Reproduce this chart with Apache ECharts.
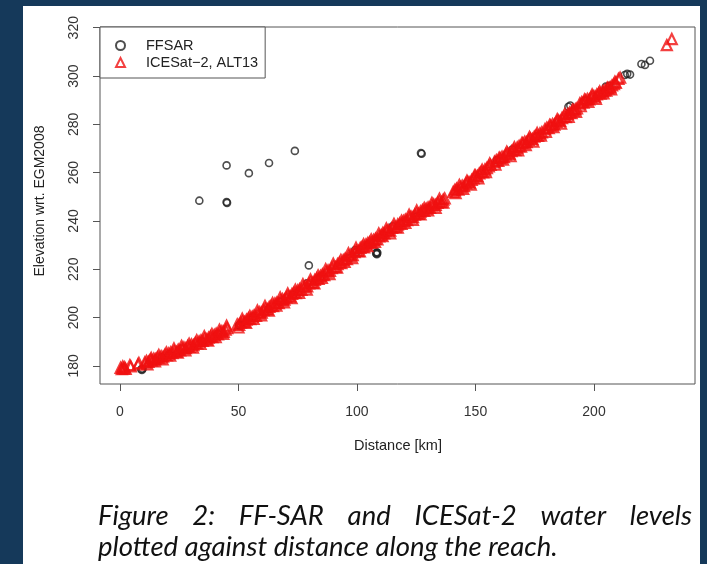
<!DOCTYPE html>
<html><head><meta charset="utf-8">
<script src="https://cdn.jsdelivr.net/npm/echarts@6/dist/echarts.min.js"></script>
<style>html,body{margin:0;padding:0;background:#15395a;}#c{width:707px;height:564px;}</style>
</head><body><div id="c"></div>
<script>
const xTicks = [0, 50, 100, 150, 200];
const yTicks = [180, 200, 220, 240, 260, 280, 300, 320];
const xTitle = 'Distance [km]';
const yTitle = 'Elevation wrt. EGM2008';
const seriesNames = ['FFSAR', 'ICESat\u22122, ALT13'];
const captionLine1 = ['Figure', '2:', 'FF-SAR', 'and', 'ICESat-2', 'water', 'levels'];
const captionLine2 = 'plotted against distance along the reach.';

const ffsar = [
 [9.0,178.6],[9.3,178.3],[9.6,178.8],[17.6,183.6],[20.8,184.8],[26.0,187.2],[34.5,190.2],[41.5,193.2],
 [50.2,196.8],[50.6,196.5],[51.0,197.1],[56.0,200.3],[62.6,203.5],[67.5,206.6],[73.1,209.4],[79.0,214.2],[84.5,216.8],
 [97.0,224.6],[99.2,228.0],[99.8,227.2],[108.1,226.5],[108.3,227.0],[108.4,226.2],[108.6,226.8],[115.0,237.8],[118.5,239.0],[125.0,241.8],
 [159.0,265.2],[165.5,269.6],[175.8,274.9],[189.2,287.3],[190.0,287.8],[196.0,289.8],[205.0,295.6],[206.5,296.0],
 [213.0,300.4],[214.0,300.9],[215.2,300.6],[220.0,305.0],[221.5,304.6],[223.6,306.3],
 [33.5,248.4],[45.0,247.8],[45.2,247.5],[45.0,263.0],[54.4,259.8],[62.9,264.0],[73.8,269.0],[79.7,221.6],[54.0,301.8],[127.0,268.1],[127.3,267.8]
];

const icesat = [
 [0.3,179.2],[0.8,178.6],[1.2,179.8],[1.6,178.9],[2.0,179.4],[2.4,178.7],[4.2,180.3],[4.6,179.8],[7.6,180.6],[8.0,181.2],
 [10.5,181.4],[11.2,182.0],[12.0,181.7],[12.8,182.6],[13.5,182.2],[14.3,183.0],[15.0,182.8],[15.8,183.5],[16.6,183.2],[17.4,184.0],
 [18.2,183.8],[19.0,184.6],[19.8,184.3],[20.6,185.1],[21.4,185.6],[22.2,185.3],[23.0,186.1],[23.8,185.8],[24.6,186.7],[25.4,186.4],
 [26.2,187.2],[27.0,187.6],[27.8,187.3],[28.6,188.2],[29.4,187.9],[30.2,188.9],[31.0,188.6],[31.8,189.5],[32.6,189.2],[33.4,190.1],
 [34.2,190.5],[35.0,190.3],[35.8,191.2],[36.6,190.9],[37.4,191.7],[38.2,192.2],[39.0,191.9],[39.8,192.8],[40.6,193.3],[41.4,193.0],
 [42.2,193.9],[43.0,194.4],[43.8,194.1],[44.6,195.0],[45.3,195.6],
 [49.5,197.2],[50.3,197.0],[51.0,197.9],[51.8,198.4],[52.6,198.2],[53.4,199.1],[54.2,199.6],[55.0,199.4],[55.8,200.4],[56.6,200.9],
 [57.4,200.7],[58.2,201.7],[59.0,202.2],[59.8,202.0],[60.6,203.1],[61.4,203.6],[62.2,203.4],[63.0,204.4],[63.8,204.9],[64.6,204.7],
 [65.4,205.8],[66.2,206.2],[67.0,206.0],[67.8,207.1],[68.6,207.6],[69.4,207.4],[70.2,208.4],[71.0,208.9],[71.8,208.7],[72.6,209.8],
 [73.4,210.3],[74.2,210.1],[75.0,211.2],[75.8,211.7],[76.6,211.5],[77.4,212.6],[78.2,213.1],[79.0,212.9],[79.8,214.1],[80.6,214.6],
 [81.4,214.4],[82.2,215.6],[83.0,216.2],[83.8,216.0],[84.6,217.2],[85.4,217.8],[86.2,217.6],[87.0,218.9],[87.8,219.5],[88.6,219.3],
 [89.4,220.5],[90.2,221.1],[91.0,220.9],[91.8,222.1],[92.6,222.7],[93.4,222.5],[94.2,223.8],[95.0,224.4],[95.8,224.2],[96.6,225.5],
 [97.4,226.0],[98.2,225.8],[99.0,227.1],[99.8,227.7],[100.6,227.5],[101.4,228.8],[102.2,229.3],[103.0,229.1],[103.8,230.3],[104.6,230.9],
 [105.4,231.2],[106.2,231.0],[107.0,232.1],[107.8,232.6],[108.6,232.4],[109.4,233.6],[110.2,234.1],[110.9,235.0],[111.6,234.8],[112.4,235.7],
 [113.2,236.2],[114.0,236.0],[114.8,237.1],[115.6,237.6],[116.4,237.4],[117.2,238.5],[118.0,239.0],[118.8,238.8],[119.6,240.0],[120.4,240.5],
 [121.2,240.3],[122.0,241.4],[122.8,241.8],[123.6,241.6],[124.4,242.6],[125.2,243.1],[126.0,242.9],[126.8,243.9],[127.6,244.4],[128.4,244.2],
 [129.2,245.1],[130.0,245.6],[130.8,245.4],[131.6,246.3],[132.4,246.8],[133.2,246.6],[134.0,247.5],[134.8,248.0],[135.6,247.8],[136.4,248.8],[137.0,249.3],
 [140.6,252.0],[141.3,252.8],[142.0,253.3],[142.8,253.0],[143.6,254.0],[144.4,254.6],[145.2,254.4],[146.0,255.5],[146.8,256.1],[147.6,255.9],
 [148.4,257.0],[149.2,257.6],[150.0,258.8],[150.8,258.6],[151.6,259.7],[152.4,260.3],[153.2,260.1],[154.0,261.3],[154.8,261.9],[155.6,262.6],[156.4,263.2],
 [158.0,264.5],[158.8,265.1],[159.6,264.9],[160.4,266.0],[161.2,266.6],[162.0,266.4],[162.8,267.5],[163.6,268.0],[164.4,267.8],[165.2,268.9],
 [166.0,269.5],[166.8,269.3],[167.6,270.4],[168.4,271.0],[169.2,270.8],[170.0,272.2],[170.8,272.8],[171.6,272.6],[172.4,273.6],[173.2,274.1],
 [174.0,273.9],[174.8,274.9],[175.6,275.4],[176.4,275.2],[177.2,276.2],[178.0,276.7],
 [179.3,278.0],[180.1,278.6],[180.9,278.4],[181.7,279.5],[182.5,280.1],[183.3,279.9],[184.1,281.0],[184.9,281.6],[185.7,281.4],[186.5,282.6],
 [187.3,283.2],[188.1,283.0],[188.9,284.2],[189.7,284.8],[190.5,284.6],[191.3,285.7],[192.1,286.3],[192.8,286.6],
 [194.0,288.6],[194.8,289.2],[195.6,289.0],[196.4,290.0],[197.2,290.5],[198.0,290.3],[198.8,291.2],[199.6,291.7],[200.4,291.5],[201.2,292.4],
 [202.0,292.9],[202.8,292.7],[203.6,293.6],[204.4,294.1],[205.2,293.9],[206.0,294.9],[206.8,295.4],[207.6,296.1],[208.4,296.6],[209.2,297.2],
 [210.3,298.8],[211.0,299.3],
 [230.7,312.8],[232.8,315.3],
 [11.6,180.6],[13.2,183.3],[14.8,181.9],[16.4,184.5],[18.0,182.7],[19.6,185.6],[21.2,184.2],[22.8,187.2],[24.4,185.5],[26.0,188.3],
 [27.6,186.4],[29.2,189.2],[30.8,187.6],[32.4,190.6],[34.0,189.1],[35.6,192.3],[37.2,190.4],[38.8,193.2],[40.4,191.9],[42.0,195.0],[43.6,193.2],[45.0,196.6],
 [50.0,195.9],[51.6,199.5],[53.2,197.8],[54.8,200.7],[56.4,199.5],[58.0,202.9],[59.6,200.9],[61.2,204.8],[62.8,202.9],[64.4,206.0],
 [66.0,204.9],[67.6,208.3],[69.2,206.3],[70.8,210.0],[72.4,208.0],[74.0,211.5],[75.6,210.2],[77.2,213.8],[78.8,211.6],[80.4,215.8],
 [82.0,214.2],[83.6,217.4],[85.2,216.4],[86.8,220.0],[88.4,218.0],[90.0,222.3],[91.6,220.7],[93.2,223.9],[94.8,223.0],[96.4,226.6],
 [98.0,224.6],[99.6,228.9],[101.2,227.4],[102.8,230.4],[104.4,229.6],[106.0,232.3],[107.6,231.3],[109.2,234.8],[110.8,233.7],[112.4,236.9],
 [114.0,234.8],[115.6,238.8],[117.2,237.2],[118.8,240.1],[120.4,239.2],[122.0,242.6],[123.6,240.4],[125.2,244.3],[126.8,242.7],[128.4,245.4],
 [130.0,244.4],[131.6,247.5],[133.2,245.4],[134.8,249.2],[136.4,247.6],
 [141.6,251.5],[143.2,254.9],[144.8,253.3],[146.4,256.7],[148.0,255.0],[149.6,258.8],[151.2,257.6],[152.8,261.2],[154.4,260.2],[156.0,263.8],
 [158.4,263.3],[160.0,266.2],[161.6,265.4],[163.2,268.7],[164.8,266.8],[166.4,270.5],[168.0,269.2],[169.6,272.3],[171.2,271.4],[172.8,274.8],
 [174.4,272.8],[176.0,276.4],[177.6,275.3],
 [179.7,276.9],[181.3,279.7],[182.9,278.8],[184.5,282.1],[186.1,280.3],[187.7,284.3],[189.3,283.1],[190.9,286.1],[192.4,285.2],
 [194.4,287.5],[196.0,290.3],[197.6,289.3],[199.2,292.4],[200.8,290.5],[202.4,293.6],[204.0,292.8],[205.6,295.2],[207.2,294.5],[208.8,297.6]
];

// caption layout (justified first line) measured with canvas
const cv = document.createElement('canvas').getContext('2d');
const capFont = 'italic 27.5px Lato';
cv.font = capFont;
const capLeft = 98, capRight = 692;
let wsum = 0; const ws = captionLine1.map(w => { const m = cv.measureText(w).width; wsum += m; return m; });
const gap = (capRight - capLeft - wsum) / (captionLine1.length - 1);
const capEls = [];
let cx = capLeft;
captionLine1.forEach((w, i) => {
  capEls.push({type:'text', x: cx, y: 516, z: 10, style:{text: w, font: capFont, fill:'#111', align:'left', verticalAlign:'middle'}});
  cx += ws[i] + gap;
});
capEls.push({type:'text', x: capLeft, y: 547, z: 10, style:{text: captionLine2, font: capFont, fill:'#111', align:'left', verticalAlign:'middle'}});

const chart = echarts.init(document.getElementById('c'), null, {renderer:'canvas'});
const axisCol = '#555';
const txtFont = 'Liberation Sans';
chart.setOption({
  backgroundColor: '#15395a',
  animation: false,
  grid: {left: 100, right: 12, top: 27, bottom: 180, show: true, borderColor: axisCol, borderWidth: 1, backgroundColor: '#fff', containLabel: false, outerBoundsMode: 'none'},
  xAxis: {
    type: 'value', min: -8.4, max: 242.6,
    axisLine: {show: false, onZero: false},
    splitLine: {show: false},
    axisTick: {show: true, inside: false, length: 7, customValues: xTicks, lineStyle: {color: axisCol}},
    axisLabel: {customValues: xTicks, color: '#333', fontSize: 14, fontFamily: txtFont, margin: 21}
  },
  yAxis: {
    type: 'value', min: 172.5, max: 320.3,
    axisLine: {show: false, onZero: false},
    splitLine: {show: false},
    axisTick: {show: true, inside: false, length: 7, customValues: yTicks, lineStyle: {color: axisCol}},
    axisLabel: {customValues: yTicks, rotate: 90, color: '#333', fontSize: 14, fontFamily: txtFont, margin: 19}
  },
  legend: {
    orient: 'vertical', left: 100, top: 27,
    data: seriesNames,
    backgroundColor: '#fff', borderColor: axisCol, borderWidth: 1, borderRadius: 0,
    padding: [11, 7, 8, 15], itemGap: 2, itemWidth: 9, itemHeight: 9,
    textStyle: {color: '#222', fontSize: 14.5, fontFamily: txtFont, padding: [0, 0, 0, 16]}
  },
  graphic: [
    {type:'rect', shape:{x:23, y:6, width:677, height:560}, style:{fill:'#fff'}, z:-100, silent:true},
    {type:'text', x: 40, y: 201, rotation: Math.PI/2, z: 10, style:{text: yTitle, font: '14px "Liberation Sans"', fill:'#222', align:'center', verticalAlign:'middle'}},
    {type:'text', x: 398, y: 446, z: 10, style:{text: xTitle, font: '14.5px "Liberation Sans"', fill:'#222', align:'center', verticalAlign:'middle'}}
  ].concat(capEls),
  series: [
    {name: seriesNames[0], type: 'scatter', data: ffsar, symbol: 'circle', symbolSize: 7,
     itemStyle: {color: 'rgba(0,0,0,0)', borderColor: '#222', borderWidth: 1.6}, z: 2},
    {name: seriesNames[1], type: 'scatter', data: icesat, symbol: 'triangle', symbolSize: 10,
     itemStyle: {color: 'rgba(255,0,0,0)', borderColor: '#f01010', borderWidth: 2.2}, z: 3}
  ]
});
</script></body></html>
